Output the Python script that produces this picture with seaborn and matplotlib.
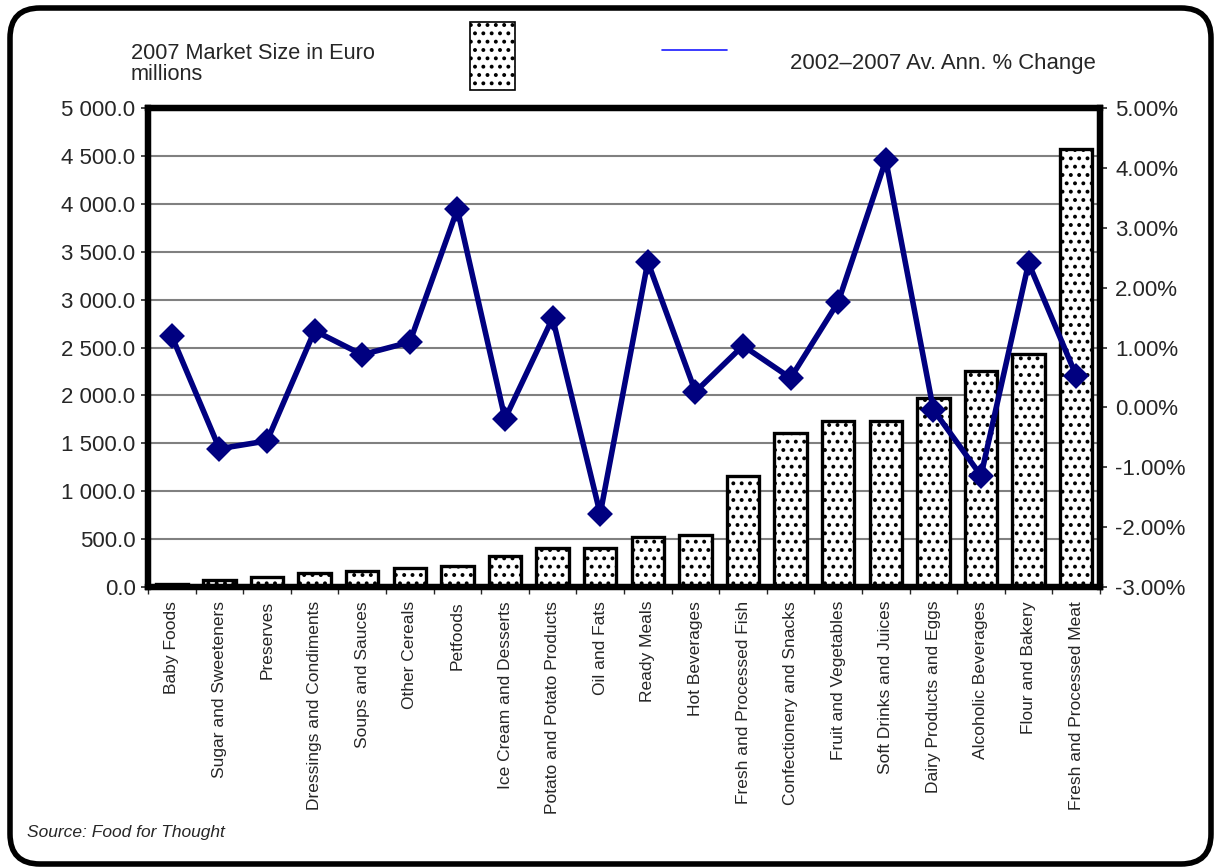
import numpy as np
import matplotlib
matplotlib.use("Agg")
import matplotlib.pyplot as plt
from matplotlib.patches import FancyBboxPatch, Rectangle
from matplotlib.lines import Line2D
from matplotlib.ticker import FuncFormatter, FixedLocator
import seaborn as sns

# -------------------------------
# Data
# -------------------------------
categories = [
    "Baby Foods", "Sugar and Sweeteners", "Preserves", "Dressings and Condiments",
    "Soups and Sauces", "Other Cereals", "Petfoods", "Ice Cream and Desserts",
    "Potato and Potato Products", "Oil and Fats", "Ready Meals", "Hot Beverages",
    "Fresh and Processed Fish", "Confectionery and Snacks", "Fruit and Vegetables",
    "Soft Drinks and Juices", "Dairy Products and Eggs", "Alcoholic Beverages",
    "Flour and Bakery", "Fresh and Processed Meat",
]
market_size = [35, 76, 101, 149, 170, 201, 222, 320, 410, 405,
               525, 543, 1159, 1604, 1733, 1733, 1976, 2255, 2432, 4572]
pct_change = [1.19, -0.69, -0.56, 1.28, 0.88, 1.09, 3.31, -0.19, 1.49, -1.78,
              2.43, 0.26, 1.03, 0.49, 1.76, 4.13, -0.04, -1.14, 2.41, 0.53]

bar_label = "2007 Market Size in Euro\nmillions"
line_label = "2002\u20132007 Av. Ann. % Change"
source = "Source: Food for Thought"

# -------------------------------
# Style
# -------------------------------
sns.set_style("white")
plt.rcParams["font.family"] = ["Liberation Sans", "DejaVu Sans"]
plt.rcParams["hatch.linewidth"] = 1.6

W, H = 1215, 867
fig = plt.figure(figsize=(W / 100, H / 100), dpi=100)
ax = fig.add_axes([148 / W, 1 - 587 / H, (1100 - 148) / W, (587 - 108) / H])

# bars
sns.barplot(x=categories, y=market_size, ax=ax, color="white",
            edgecolor="black", linewidth=2.4, width=0.68, hatch="..",
            saturation=1, zorder=2)
ax.set_ylim(0, 5000)
ax.set_yticks(np.arange(0, 5001, 500))
ax.yaxis.set_major_formatter(FuncFormatter(lambda v, p: f"{v:,.1f}".replace(",", " ")))
ax.grid(axis="y", color="#808080", linewidth=1.5)
ax.set_axisbelow(True)
ax.tick_params(axis="y", labelsize=16, length=5, width=1.2, direction="out",
               left=True, pad=4)

# category labels and ticks between bars
n = len(categories)
ax.set_xlim(-0.5, n - 0.5)
ax.set_xticks(np.arange(n))
ax.set_xticklabels(categories, rotation=90, fontsize=12.5, va="top")
ax.tick_params(axis="x", length=0, pad=10)
ax.xaxis.set_minor_locator(FixedLocator(np.arange(-0.5, n, 1.0)))
ax.tick_params(axis="x", which="minor", length=5, width=1, bottom=True)
for s in ax.spines.values():
    s.set_linewidth(4.5)
    s.set_color("black")
ax.set_xlabel("")
ax.set_ylabel("")

# line on secondary axis
ax2 = ax.twinx()
sns.pointplot(x=categories, y=pct_change, ax=ax2, color="#000080",
              markers="D", markersize=10.5, linewidth=4, zorder=5)
ax2.set_xlim(-0.5, n - 0.5)
ax2.set_ylim(-3, 5)
ax2.set_yticks(np.arange(-3, 5.01, 1))
ax2.yaxis.set_major_formatter(FuncFormatter(lambda v, p: f"{v:.2f}%"))
ax2.tick_params(axis="y", labelsize=16, length=5, width=1.2, direction="out",
                right=True, pad=6)
ax2.grid(False)
for s in ax2.spines.values():
    s.set_linewidth(4.5)
    s.set_color("black")
ax2.set_xlabel("")
ax2.set_ylabel("")

# -------------------------------
# Legend drawn along the top
# -------------------------------
fig.text(131 / W, 1 - 64 / H, bar_label, fontsize=15.7, va="center", ha="left",
         linespacing=1.05)
fig.patches.append(Rectangle((470 / W, 1 - 90 / H), 45 / W, 68 / H,
                             transform=fig.transFigure, facecolor="white",
                             edgecolor="black", linewidth=1.2, hatch=".."))
fig.lines.append(Line2D([662 / W, 727 / W], [1 - 50 / H, 1 - 50 / H],
                        transform=fig.transFigure, color="#1a1aff", linewidth=1.2))
fig.text(790 / W, 1 - 63 / H, line_label, fontsize=15.9, va="center", ha="left")

fig.text(27 / W, 1 - 832 / H, source, fontsize=12.5, style="italic",
         va="center", ha="left")

# rounded frame around the whole picture
frame = FancyBboxPatch((0.10, 0.03), 12.01, 8.56,
                       boxstyle="round,pad=0,rounding_size=0.3",
                       transform=fig.dpi_scale_trans, facecolor="none",
                       edgecolor="black", linewidth=4)
fig.patches.append(frame)

fig.savefig("out.png", dpi=100)
